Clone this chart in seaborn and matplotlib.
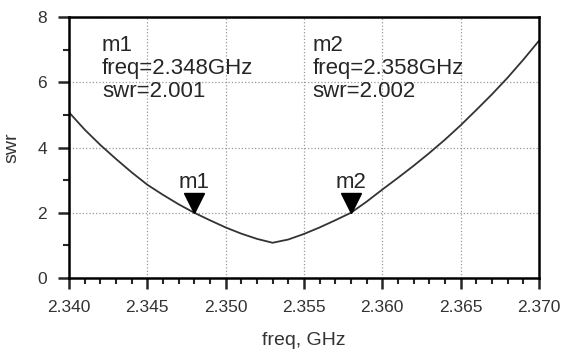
import numpy as np
import pandas as pd
import seaborn as sns
import matplotlib.pyplot as plt
from matplotlib.ticker import MultipleLocator
from matplotlib.transforms import offset_copy

freq = [2.340, 2.341, 2.342, 2.343, 2.344, 2.345, 2.346, 2.347, 2.348, 2.349,
        2.350, 2.351, 2.352, 2.353, 2.354, 2.355, 2.356, 2.357, 2.358, 2.359,
        2.360, 2.361, 2.362, 2.363, 2.364, 2.365, 2.366, 2.367, 2.368, 2.369, 2.370]
swr = [5.08, 4.55, 4.08, 3.65, 3.24, 2.86, 2.55, 2.26, 2.00, 1.77,
       1.55, 1.36, 1.20, 1.08, 1.18, 1.35, 1.55, 1.77, 2.00, 2.34,
       2.71, 3.07, 3.44, 3.83, 4.24, 4.68, 5.15, 5.63, 6.14, 6.69, 7.27]

marker_names = ["m1", "m2"]
marker_freq = [2.348, 2.358]
marker_swr = [2.001, 2.002]

sns.set_style("ticks")
plt.rcParams["font.family"] = ["Liberation Sans", "DejaVu Sans"]

df = pd.DataFrame({"freq": freq, "swr": swr})

fig = plt.figure(figsize=(5.62, 3.53), dpi=100)
ax = fig.add_axes([0.1228, 0.2125, 0.836, 0.739])

sns.lineplot(data=df, x="freq", y="swr", ax=ax, color="#333333", linewidth=1.3)

# marker triangles (tip on the curve) and labels
tri_tr = offset_copy(ax.transData, fig=fig, x=0, y=7, units="points")
for name, f, s in zip(marker_names, marker_freq, marker_swr):
    ax.plot(f, s, marker="v", markersize=14, color="black", linestyle="none",
            transform=tri_tr)
    ax.annotate(name, (f, s), xytext=(0, 14), textcoords="offset points",
                ha="center", va="bottom", fontsize=16)

# marker readouts
text_x = [2.3421, 2.35556]
for name, f, s, tx in zip(marker_names, marker_freq, marker_swr, text_x):
    ax.text(tx, 7.45, f"{name}\nfreq={f:.3f}GHz\nswr={s:.3f}",
            ha="left", va="top", fontsize=16, linespacing=1.13)

ax.set_xlim(2.340, 2.370)
ax.set_ylim(0, 8)
ax.xaxis.set_major_locator(MultipleLocator(0.005))
ax.xaxis.set_minor_locator(MultipleLocator(0.001))
ax.yaxis.set_major_locator(MultipleLocator(2))
ax.yaxis.set_minor_locator(MultipleLocator(1))
ax.set_xticklabels([f"{v:.3f}" for v in ax.get_xticks()])

ax.grid(True, which="major", linestyle=":", color="#999999", linewidth=0.9)
for sp in ax.spines.values():
    sp.set_linewidth(1.8)
    sp.set_color("black")
ax.tick_params(which="major", length=8, width=1.8, labelsize=12.5,
               labelcolor="#333333")
ax.tick_params(axis="x", which="major", pad=8)
ax.tick_params(axis="y", which="major", pad=8)
ax.tick_params(which="minor", length=4, width=1.5)

ax.set_xlabel("freq, GHz", fontsize=14, color="#333333", labelpad=12)
ax.set_ylabel("swr", fontsize=14, color="#333333", labelpad=12)

fig.savefig("out.png", dpi=100)
